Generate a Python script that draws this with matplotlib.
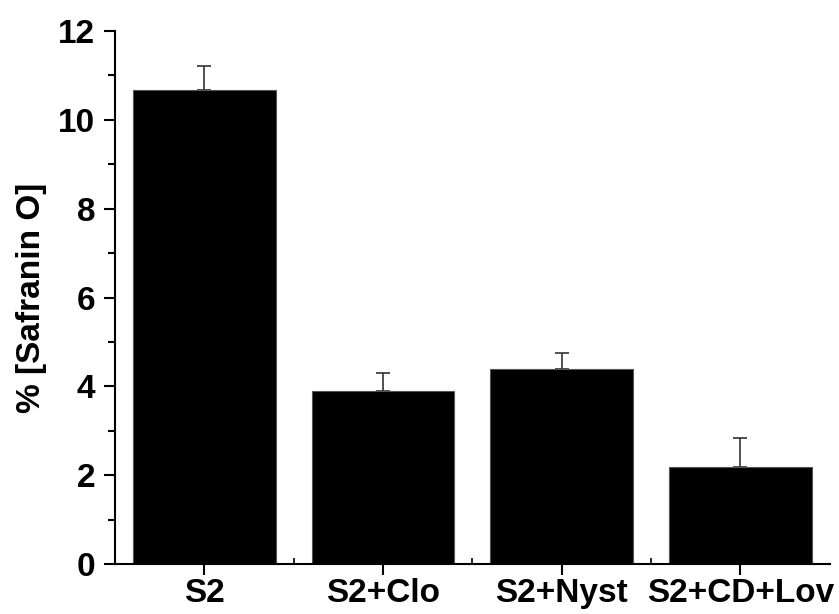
import matplotlib
matplotlib.use("Agg")
import matplotlib.pyplot as plt
from matplotlib.ticker import MultipleLocator, FixedLocator

categories = ["S2", "S2+Clo", "S2+Nyst", "S2+CD+Lov"]
values = [10.68, 3.90, 4.38, 2.18]
errors = [0.54, 0.40, 0.38, 0.66]

plt.rcParams['font.family'] = ['Liberation Sans', 'DejaVu Sans']
plt.rcParams['font.weight'] = 'bold'

fig = plt.figure(figsize=(8.39, 6.14), dpi=100)
ax = fig.add_axes([0.137, 0.0814, 0.852, 0.868])

x = list(range(len(categories)))
ax.bar(x, values, width=0.8, color='black', edgecolor='#555555', linewidth=0.8, zorder=2)
ax.errorbar(x, values, yerr=[[0]*len(errors), errors], fmt='none', ecolor='#333333',
            elinewidth=1.2, capsize=5, capthick=1.2, zorder=1)

ax.set_xlim(-0.5, 3.5)
ax.set_ylim(0, 12)
ax.set_xticks(x)
ax.set_xticklabels(categories, fontsize=24, fontweight='bold')
ax.xaxis.set_minor_locator(FixedLocator([0.5, 1.5, 2.5]))
ax.yaxis.set_major_locator(MultipleLocator(2))
ax.yaxis.set_minor_locator(MultipleLocator(1))
for lab in ax.get_yticklabels():
    lab.set_fontweight('bold')
ax.tick_params(axis='y', which='major', length=8, width=1.5, direction='out', pad=6, labelsize=24)
ax.tick_params(axis='y', which='minor', length=5, width=1.5, direction='out')
ax.tick_params(axis='x', which='major', length=8, width=1.5, direction='out', pad=2, labelsize=24)
ax.tick_params(axis='x', which='minor', length=4, width=1.2, direction='in')
ax.set_ylabel("% [Safranin O]", fontsize=24, fontweight='bold', labelpad=8)

for s in ['top', 'right']:
    ax.spines[s].set_visible(False)
for s in ['left', 'bottom']:
    ax.spines[s].set_linewidth(1.5)

fig.savefig("out.png", dpi=100)
